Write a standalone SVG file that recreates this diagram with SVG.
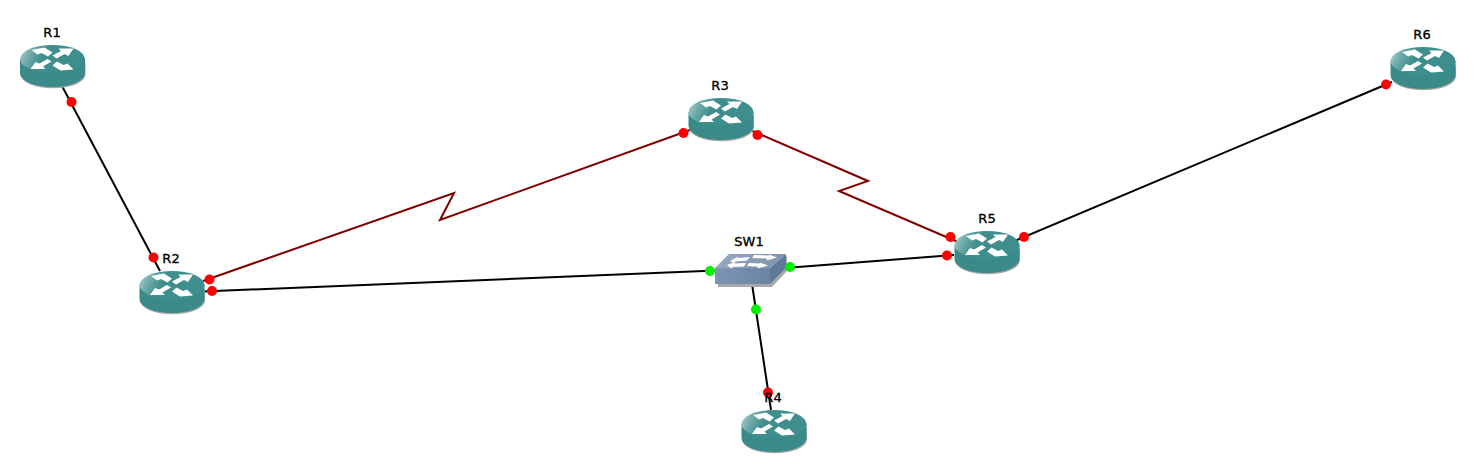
<svg xmlns="http://www.w3.org/2000/svg" width="1476" height="474" viewBox="0 0 1476 474">
<style>
.lbl{font-family:"DejaVu Sans",Verdana,sans-serif;font-size:13px;fill:#000;stroke:#000;stroke-width:.35px;text-anchor:middle}
.eth{fill:none;stroke:#000;stroke-width:2}
.ser{fill:none;stroke:#800000;stroke-width:2}
.r{fill:#ff0000}.g{fill:#00f000}
</style>
<defs>
<linearGradient id="top" x1="0" y1="0" x2="1" y2="0.2"><stop offset="0" stop-color="#b4d6d4"/><stop offset="0.22" stop-color="#6ba8a7"/><stop offset="0.42" stop-color="#3f8e8e"/><stop offset="1" stop-color="#3f8e8e"/></linearGradient>
<linearGradient id="swtop" x1="0" y1="0" x2="1" y2="0"><stop offset="0" stop-color="#97a8bf"/><stop offset="1" stop-color="#7e93ae"/></linearGradient>
<linearGradient id="swfront" x1="0" y1="0" x2="1" y2="0"><stop offset="0" stop-color="#7d94b3"/><stop offset="1" stop-color="#6c84a4"/></linearGradient>
<symbol id="router" viewBox="-34 -15 68 46" width="68" height="46" overflow="visible">
<path d="M-32.500 3V14A32.500 14 0 0 0 32.500 14V3Z" fill="#a6a6a6" transform="translate(0.500 1.300)"/>
<path d="M-32.500 0V14A32.500 14 0 0 0 32.500 14V0Z" fill="#3b8a8a"/>
<ellipse cx="0" cy="0" rx="32.500" ry="14" fill="url(#top)"/>
<g fill="#fff">
<path d="M-21-9-8-11.500 0-6.500-4.500-2.500-11-6-15-4.500Z"/>
<path d="M21-10.500 6-10.500 8.500-8 0-3.500 4-.5 12-5 16-3Z"/>
<path d="M-22 10H-7L-9.500 7.500-1 2.500-5 0-13 4.500-17 3Z"/>
<path d="M21 10.500 8 11.500 0 6.500 4.500 2.500 11 6 15 4.500Z"/>
</g>
</symbol>
</defs>
<g id="connectors">
<path class="eth" d="M62 86 160 271"/>
<path class="eth" d="M203 291.500 716 270.500"/>
<path class="eth" d="M785 268 954 255"/>
<path class="eth" d="M752 284 771 410"/>
<path class="eth" d="M1012 242 1392 82"/>
<path class="ser" d="M203 281 454 193 440 220 690 130"/>
<path class="ser" d="M750 130 868 181 839 191 958 242"/>
</g>
<g id="R1"><use href="#router" x="18.500" y="44"/><text class="lbl" x="52" y="37">R1</text></g>
<g id="R2"><use href="#router" x="138" y="270"/><text class="lbl" x="171" y="263">R2</text></g>
<g id="R3"><use href="#router" x="687" y="97"/><text class="lbl" x="720" y="90">R3</text></g>
<g id="R5"><use href="#router" x="953" y="230"/><text class="lbl" x="987" y="223">R5</text></g>
<g id="R6"><use href="#router" x="1389" y="46"/><text class="lbl" x="1422" y="39">R6</text></g>
<g id="SW1">
<path d="M717 270H771L787 256V271L772 287H718Z" fill="#a8a8a8"/>
<path d="M715 268 729 254H786L770 268Z" fill="url(#swtop)"/>
<path d="M715 268H770V284H715Z" fill="url(#swfront)"/>
<path d="M770 268 786 254V268L770 284Z" fill="#5f7897"/>
<g fill="#fff">
<path d="M730 261 738 256.500 737.500 258 750 257 747 260.500 735 261.500 735 263.500Z"/>
<path d="M777 257.500 769 254.500 769.500 255.500 754 255 752 258 767 258.500 766.500 260.500Z"/>
<path d="M727 265 735 262 734 263.500 746 263 744 266.500 732 267 732 269Z"/>
<path d="M768 265.500 760 262.500 760.500 263.500 749 263 747 266 758 266.500 757.500 268.500Z"/>
</g>
<text class="lbl" x="749" y="246">SW1</text>
</g>
<g id="endpoints">
<circle class="r" cx="71.500" cy="102" r="5"/>
<circle class="r" cx="153.500" cy="257.500" r="5"/>
<circle class="r" cx="209.500" cy="279.500" r="5"/>
<circle class="r" cx="212" cy="291" r="5"/>
<circle class="g" cx="710" cy="271" r="5"/>
<circle class="g" cx="790" cy="267" r="5"/>
<circle class="g" cx="756" cy="309.500" r="5"/>
<circle class="r" cx="768" cy="392.500" r="5"/>
<circle class="r" cx="683.500" cy="133" r="5"/>
<circle class="r" cx="757.500" cy="135" r="5"/>
<circle class="r" cx="950.500" cy="237" r="5"/>
<circle class="r" cx="947" cy="255.500" r="5"/>
<circle class="r" cx="1024" cy="237" r="5"/>
<circle class="r" cx="1386" cy="84.500" r="5"/>
</g>
<g id="R4"><use href="#router" x="740" y="409"/><text class="lbl" x="773" y="402">R4</text></g>
</svg>
